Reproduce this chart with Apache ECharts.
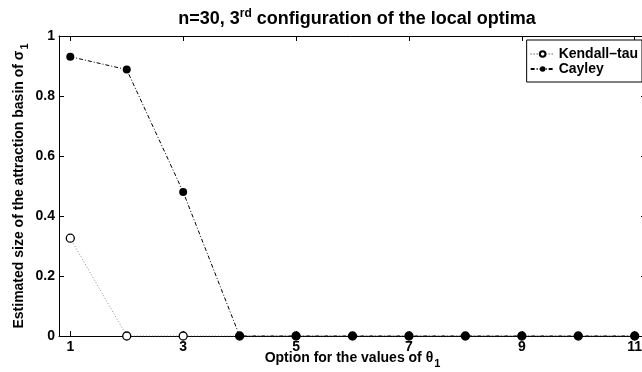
<!DOCTYPE html>
<html>
<head>
<meta charset="utf-8">
<script src="https://cdn.jsdelivr.net/npm/echarts@6/dist/echarts.min.js"></script>
<style>html,body{margin:0;padding:0;background:#fff}#c{width:642px;height:372px}</style>
</head>
<body>
<div id="c"></div>
<script>
const xValues = [1, 2, 3, 4, 5, 6, 7, 8, 9, 10, 11];
const kendallTau = [0.326, 0, 0, 0, 0, 0, 0, 0, 0, 0, 0];
const cayley = [0.931, 0.888, 0.48, 0, 0, 0, 0, 0, 0, 0, 0];
const xTickValues = [1, 3, 5, 7, 9, 11];
const yTickValues = [0, 0.2, 0.4, 0.6, 0.8, 1];

const FONT = 'Liberation Sans';
const chart = echarts.init(document.getElementById('c'), null, {renderer: 'canvas'});
const pair = arr => xValues.map((x, i) => [x, arr[i]]);

const axisCommon = {
  axisLine: {show: true, onZero: false, lineStyle: {color: '#000', width: 1}},
  axisTick: {show: true, inside: true, length: 5, lineStyle: {color: '#000', width: 1}},
  splitLine: {show: false}
};

chart.setOption({
  animation: false,
  backgroundColor: '#fff',
  title: {
    text: '{a|n=30, 3}{sup|rd}{a| configuration of the local optima}',
    left: 352, textAlign: 'center', top: 3,
    textStyle: {
      rich: {
        a: {fontFamily: FONT, fontWeight: 'bold', fontSize: 18, color: '#000'},
        sup: {fontFamily: FONT, fontWeight: 'bold', fontSize: 12, color: '#000', padding: [0, 0, 10, 0]}
      }
    }
  },
  legend: {
    orient: 'vertical', right: 0, top: 40,
    backgroundColor: '#fff', borderColor: '#000', borderWidth: 1,
    padding: [7, 4, 6, 3], itemGap: 1, itemWidth: 24, itemHeight: 7,
    textStyle: {fontFamily: FONT, fontWeight: 'bold', fontSize: 14, color: '#000', padding: [0, 0, 0, -1]},
    data: ['Kendall\u2013tau', 'Cayley']
  },
  grid: {left: 59, right: -4, top: 36, bottom: 36, outerBoundsMode: 'none', containLabel: false},
  xAxis: [{
    type: 'value', min: 0.8, max: 11.2, position: 'bottom',
    ...axisCommon,
    axisTick: {...axisCommon.axisTick, customValues: xTickValues},
    axisLabel: {customValues: xTickValues, fontFamily: FONT, fontWeight: 'bold', fontSize: 14, color: '#000', margin: 4},
    name: '{a|Option for the values of \u03b8}{s|1}',
    nameLocation: 'middle', nameGap: 11, nameMoveOverlap: false,
    nameTextStyle: {
      rich: {
        a: {fontFamily: FONT, fontWeight: 'bold', fontSize: 14, color: '#000'},
        s: {fontFamily: FONT, fontWeight: 'bold', fontSize: 11, color: '#000', padding: [11, 0, 0, 1]}
      }
    }
  }, {
    type: 'value', min: 0.8, max: 11.2, position: 'top',
    ...axisCommon,
    axisTick: {...axisCommon.axisTick, customValues: xTickValues},
    axisLabel: {show: false}
  }],
  yAxis: [{
    type: 'value', min: 0, max: 1, interval: 0.2, position: 'left',
    ...axisCommon,
    axisLabel: {fontFamily: FONT, fontWeight: 'bold', fontSize: 14, color: '#000', margin: 4,
      formatter: v => String(+v.toFixed(1))},
    name: '{a|Estimated size of the attraction basin of \u03c3}{s|1}',
    nameLocation: 'middle', nameGap: 29, nameRotate: 90, nameMoveOverlap: false,
    nameTextStyle: {
      rich: {
        a: {fontFamily: FONT, fontWeight: 'bold', fontSize: 14, color: '#000'},
        s: {fontFamily: FONT, fontWeight: 'bold', fontSize: 11, color: '#000', padding: [10, 0, 0, 1]}
      }
    }
  }, {
    type: 'value', min: 0, max: 1, interval: 0.2, position: 'right',
    ...axisCommon,
    axisLabel: {show: false}
  }],
  series: [{
    name: 'Kendall\u2013tau', type: 'line', data: pair(kendallTau),
    symbol: 'circle', symbolSize: 8, showAllSymbol: true,
    lineStyle: {color: '#8a8a8a', width: 1, type: [1, 2]},
    itemStyle: {color: '#fff', borderColor: '#000', borderWidth: 1.3},
    z: 2
  }, {
    name: 'Cayley', type: 'line', data: pair(cayley),
    symbol: 'circle', symbolSize: 8, showAllSymbol: true,
    lineStyle: {color: '#000', width: 1, type: [4, 2, 1, 2]},
    itemStyle: {color: '#000', borderColor: '#000', borderWidth: 0},
    z: 3
  }]
});
</script>
</body>
</html>
